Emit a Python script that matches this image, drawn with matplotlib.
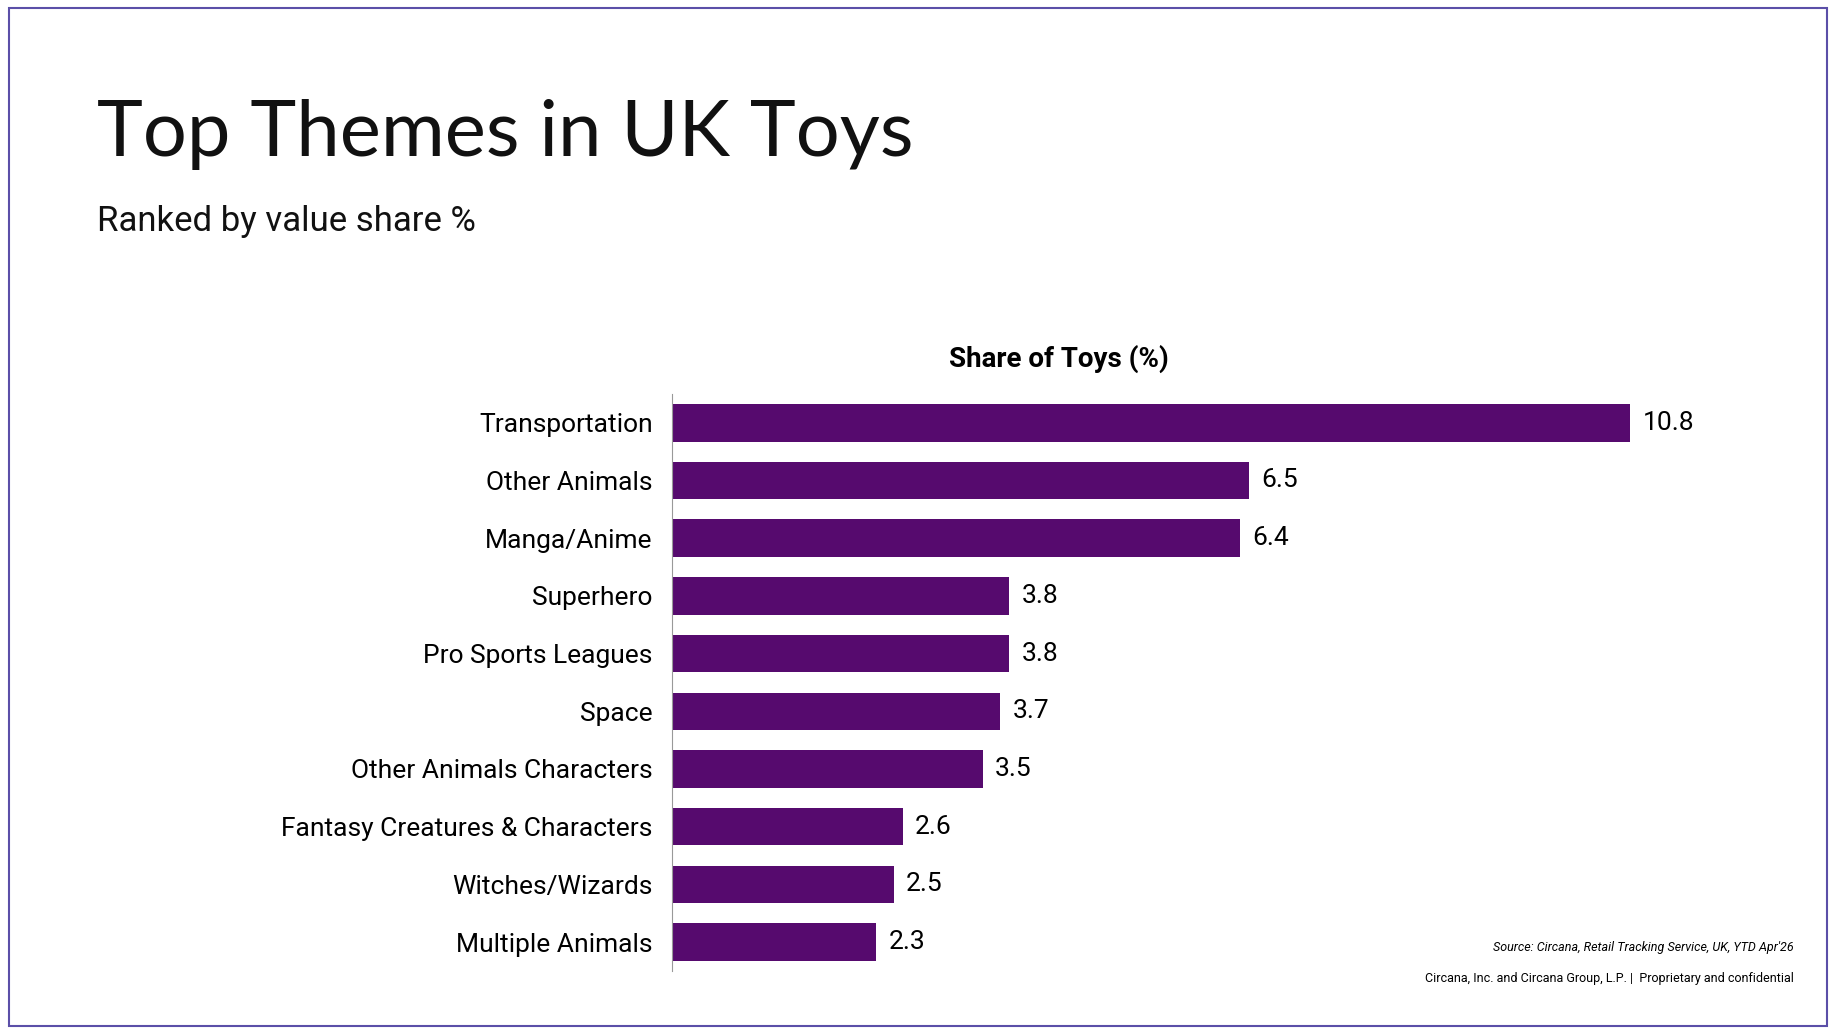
import matplotlib.pyplot as plt
from matplotlib.patches import Rectangle

themes = ['Transportation', 'Other Animals', 'Manga/Anime', 'Superhero', 'Pro Sports Leagues',
          'Space', 'Other Animals Characters', 'Fantasy Creatures & Characters',
          'Witches/Wizards', 'Multiple Animals']
share = [10.8, 6.5, 6.4, 3.8, 3.8, 3.7, 3.5, 2.6, 2.5, 2.3]

fig = plt.figure(figsize=(18.36, 10.34), dpi=100)
fig.patches.append(Rectangle((0.005, 0.008), 0.99, 0.984, transform=fig.transFigure,
                             fill=False, edgecolor='#5b4fa8', linewidth=1.5))

fig.text(0.053, 0.87, 'Top Themes in UK Toys', fontsize=56, family='Lato', va='center', color='#111111')
fig.text(0.053, 0.786, 'Ranked by value share %', fontsize=25, family='Roboto', va='center', color='#111111')

ax = fig.add_axes([0.366, 0.061, 0.564, 0.558])
y = list(range(len(themes)))
ax.barh(y, share, height=0.65, color='#560a6e')
ax.set_ylim(len(themes) - 0.5, -0.5)
ax.set_xlim(0, 11.67)
ax.set_yticks(y)
ax.set_yticklabels(themes, fontsize=19, family='Roboto')
ax.tick_params(axis='y', length=0, pad=14)
ax.set_xticks([])
for s in ['top', 'right', 'bottom']:
    ax.spines[s].set_visible(False)
ax.spines['left'].set_color('#999999')
for i, v in enumerate(share):
    ax.text(v + 0.14, i, f'{v}', va='center', fontsize=19, family='Roboto')

fig.text(0.577, 0.653, 'Share of Toys (%)', ha='center', va='center', fontsize=20,
         family='Roboto', weight='bold')
fig.text(0.977, 0.08, "Source: Circana, Retail Tracking Service, UK, YTD Apr'26", ha='right',
         fontsize=9, style='italic', family='Roboto')
fig.text(0.977, 0.05, 'Circana, Inc. and Circana Group, L.P. |  Proprietary and confidential',
         ha='right', fontsize=9, family='Roboto')

fig.savefig('out.png')
